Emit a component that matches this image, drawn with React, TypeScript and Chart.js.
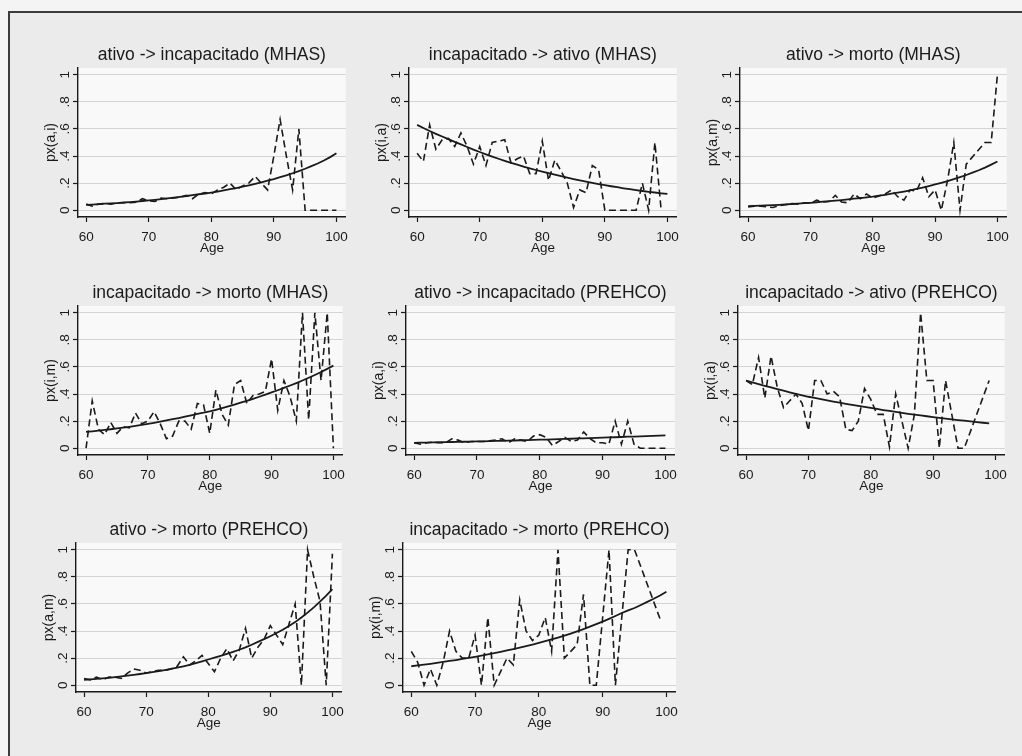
import React, { useEffect, useRef } from 'react';
import { Chart, registerables } from 'chart.js';

Chart.register(...registerables);

// ---------------- data ----------------
const AGES = [
  60, 61, 62, 63, 64, 65, 66, 67, 68, 69,
  70, 71, 72, 73, 74, 75, 76, 77, 78, 79,
  80, 81, 82, 83, 84, 85, 86, 87, 88, 89,
  90, 91, 92, 93, 94, 95, 96, 97, 98, 99, 100,
];

const X_TICKS = [60, 70, 80, 90, 100];
const Y_TICKS = [0, 0.2, 0.4, 0.6, 0.8, 1];
const Y_TICK_LABELS = ['0', '.2', '.4', '.6', '.8', '1'];
const X_TITLE = 'Age';

const TITLES = [
  'ativo -> incapacitado (MHAS)',
  'incapacitado -> ativo (MHAS)',
  'ativo -> morto (MHAS)',
  'incapacitado -> morto (MHAS)',
  'ativo -> incapacitado (PREHCO)',
  'incapacitado -> ativo (PREHCO)',
  'ativo -> morto (PREHCO)',
  'incapacitado -> morto (PREHCO)',
];

const Y_TITLES = ['px(a,i)', 'px(i,a)', 'px(a,m)', 'px(i,m)', 'px(a,i)', 'px(i,a)', 'px(a,m)', 'px(i,m)'];

// observed (dashed) series, ages 60.. ; null = no observation
const OBS_AI_MHAS = [
  0.045, 0.03, 0.045, 0.05, 0.045, 0.055, 0.055, 0.055, 0.06, 0.085,
  0.07, 0.065, 0.09, 0.085, 0.09, 0.095, 0.11, 0.085, 0.12, 0.13,
  0.12, 0.15, 0.17, 0.2, 0.15, 0.18, 0.2, 0.25, 0.2, 0.15,
  0.4, 0.67, 0.4, 0.15, 0.6, 0, 0, 0, 0, 0, 0,
];
const OBS_IA_MHAS = [
  0.42, 0.36, 0.63, 0.45, 0.52, 0.53, 0.47, 0.57, 0.47, 0.34,
  0.47, 0.33, 0.5, 0.51, 0.52, 0.35, 0.38, 0.4, 0.27, 0.27,
  0.51, 0.22, 0.37, 0.29, 0.2, 0.02, 0.15, 0.13, 0.33, 0.3,
  0, 0, 0, 0, 0, 0, 0.2, 0, 0.5, 0,
];
const OBS_AM_MHAS = [
  0.025, 0.03, 0.03, 0.025, 0.02, 0.035, 0.04, 0.05, 0.045, 0.055,
  0.05, 0.075, 0.06, 0.065, 0.11, 0.06, 0.055, 0.12, 0.085, 0.12,
  0.09, 0.105, 0.12, 0.15, 0.1, 0.075, 0.15, 0.14, 0.24, 0.1,
  0.15, 0, 0.22, 0.5, 0, 0.34, null, null, 0.5, 0.5, 1.0,
];
const OBS_IM_MHAS = [
  0, 0.35, 0.14, 0.1, 0.19, 0.11, 0.16, 0.15, 0.26, 0.18,
  0.2, 0.27, 0.18, 0.07, 0.09, 0.2, 0.2, 0.14, 0.33, 0.32,
  0.11, 0.43, 0.25, 0.17, 0.47, 0.5, 0.33, 0.39, 0.4, 0.42,
  0.66, 0.28, 0.5, 0.38, 0.2, 1.0, 0.21, 1.0, 0.5, 1.0, 0,
];
const OBS_AI_PREHCO = [
  0.04, 0.03, 0.04, 0.045, 0.04, 0.04, 0.07, 0.06, 0.04, 0.05,
  0.05, 0.05, 0.055, 0.06, 0.07, 0.04, 0.07, 0.06, 0.05, 0.09,
  0.1, 0.08, 0.02, 0.05, 0.08, 0.05, 0.06, 0.12, 0.07, 0.04,
  0.04, 0.03, 0.2, 0.03, 0.2, 0.03, 0, 0, 0, 0, 0,
];
const OBS_IA_PREHCO = [
  0.5, 0.47, 0.67, 0.37, 0.68, 0.45, 0.3, 0.35, 0.4, 0.33,
  0.13, 0.5, 0.5, 0.4, 0.42, 0.38, 0.14, 0.13, 0.2, 0.44,
  0.36, 0.25, 0.25, 0.01, 0.4, 0.2, 0, 0.25, 1.0, 0.5,
  0.5, 0, 0.5, 0.25, 0, 0, null, null, null, 0.5,
];
const OBS_AM_PREHCO = [
  0.05, 0.04, 0.06, 0.04, 0.06, 0.06, 0.05, 0.09, 0.12, 0.11,
  0.09, 0.1, 0.11, 0.11, 0.12, 0.14, 0.21, 0.15, 0.18, 0.22,
  0.16, 0.1, 0.2, 0.27, 0.18, 0.26, 0.42, 0.2, 0.28, 0.34,
  0.44, 0.37, 0.3, 0.45, 0.6, 0, 1.0, 0.8, 0.62, 0, 0.97,
];
const OBS_IM_PREHCO = [
  0.25, 0.17, 0, 0.12, 0, 0.17, 0.4, 0.25, 0.2, 0.2,
  0.37, 0, 0.5, 0, 0.1, 0.2, 0.15, 0.63, 0.4, 0.33,
  0.37, 0.5, 0.25, 1.0, 0.2, 0.25, 0.3, 0.67, 0, 0,
  0.5, 1.0, 0, 0.5, 1.0, 1.0, null, null, null, 0.49,
];

// fitted (solid) series, ages 60..
const FIT_AI_MHAS = [
  0.04, 0.042, 0.045, 0.048, 0.05, 0.053, 0.057, 0.06, 0.064, 0.068,
  0.072, 0.077, 0.082, 0.087, 0.093, 0.099, 0.105, 0.111, 0.118, 0.123,
  0.13, 0.138, 0.146, 0.155, 0.164, 0.174, 0.184, 0.195, 0.206, 0.218,
  0.23, 0.244, 0.258, 0.273, 0.289, 0.306, 0.325, 0.345, 0.367, 0.392, 0.42,
];
const FIT_IA_MHAS = [
  0.63, 0.607, 0.585, 0.564, 0.544, 0.525, 0.505, 0.486, 0.467, 0.448,
  0.43, 0.413, 0.396, 0.38, 0.365, 0.35, 0.336, 0.322, 0.309, 0.297,
  0.285, 0.274, 0.263, 0.252, 0.241, 0.23, 0.22, 0.211, 0.202, 0.193,
  0.185, 0.177, 0.17, 0.162, 0.155, 0.148, 0.142, 0.136, 0.131, 0.125, 0.12,
];
const FIT_AM_MHAS = [
  0.03, 0.032, 0.034, 0.036, 0.038, 0.04, 0.043, 0.046, 0.049, 0.052,
  0.055, 0.059, 0.063, 0.067, 0.071, 0.075, 0.08, 0.085, 0.09, 0.095,
  0.1, 0.107, 0.114, 0.122, 0.13, 0.138, 0.147, 0.157, 0.167, 0.178,
  0.19, 0.202, 0.215, 0.229, 0.244, 0.26, 0.277, 0.295, 0.315, 0.337, 0.36,
];
const FIT_IM_MHAS = [
  0.12, 0.125, 0.13, 0.135, 0.14, 0.146, 0.152, 0.158, 0.165, 0.172,
  0.18, 0.188, 0.196, 0.205, 0.214, 0.223, 0.233, 0.243, 0.254, 0.262,
  0.272, 0.284, 0.296, 0.309, 0.322, 0.336, 0.35, 0.365, 0.38, 0.396,
  0.412, 0.428, 0.445, 0.463, 0.481, 0.5, 0.52, 0.541, 0.563, 0.586, 0.61,
];
const FIT_AI_PREHCO = [
  0.04, 0.041, 0.042, 0.043, 0.044, 0.045, 0.046, 0.047, 0.048, 0.049,
  0.05, 0.051, 0.052, 0.054, 0.055, 0.056, 0.057, 0.059, 0.06, 0.061,
  0.063, 0.064, 0.066, 0.067, 0.069, 0.07, 0.072, 0.073, 0.075, 0.076,
  0.078, 0.08, 0.081, 0.083, 0.085, 0.086, 0.088, 0.09, 0.091, 0.093, 0.095,
];
const FIT_IA_PREHCO = [
  0.5, 0.487, 0.474, 0.461, 0.449, 0.437, 0.425, 0.413, 0.402, 0.391,
  0.38, 0.371, 0.362, 0.353, 0.344, 0.336, 0.328, 0.32, 0.313, 0.306,
  0.298, 0.29, 0.282, 0.275, 0.268, 0.261, 0.254, 0.248, 0.242, 0.236,
  0.23, 0.224, 0.219, 0.213, 0.208, 0.203, 0.198, 0.193, 0.188, 0.183,
];
const FIT_AM_PREHCO = [
  0.04, 0.043, 0.047, 0.051, 0.055, 0.06, 0.065, 0.071, 0.077, 0.083,
  0.09, 0.097, 0.104, 0.112, 0.121, 0.13, 0.14, 0.151, 0.163, 0.176,
  0.19, 0.203, 0.217, 0.231, 0.246, 0.262, 0.279, 0.299, 0.32, 0.34,
  0.362, 0.385, 0.41, 0.437, 0.466, 0.5, 0.536, 0.575, 0.617, 0.662, 0.71,
];
const FIT_IM_PREHCO = [
  0.14, 0.146, 0.152, 0.158, 0.165, 0.172, 0.179, 0.186, 0.194, 0.202,
  0.21, 0.219, 0.228, 0.237, 0.247, 0.257, 0.267, 0.278, 0.289, 0.3,
  0.312, 0.325, 0.338, 0.352, 0.366, 0.381, 0.397, 0.414, 0.432, 0.451,
  0.47, 0.49, 0.511, 0.533, 0.552, 0.57, 0.592, 0.615, 0.638, 0.663, 0.69,
];

const OBSERVED = [OBS_AI_MHAS, OBS_IA_MHAS, OBS_AM_MHAS, OBS_IM_MHAS, OBS_AI_PREHCO, OBS_IA_PREHCO, OBS_AM_PREHCO, OBS_IM_PREHCO];
const FITTED = [FIT_AI_MHAS, FIT_IA_MHAS, FIT_AM_MHAS, FIT_IM_MHAS, FIT_AI_PREHCO, FIT_IA_PREHCO, FIT_AM_PREHCO, FIT_IM_PREHCO];

// ---------------- layout / style ----------------
// plot region of each panel in page pixels: left, top, width, height
const AREAS = [
  [78, 67.5, 268.5, 149.3],
  [408.5, 67.5, 268.6, 149.3],
  [739.6, 67.5, 268.1, 149.3],
  [77.9, 305.9, 266.4, 148.6],
  [405.8, 305.9, 270.4, 148.6],
  [737.9, 305.9, 268.3, 148.6],
  [75.9, 543.2, 266.8, 149.3],
  [402.7, 543.2, 273.5, 149.3],
];

const X_MIN = 58.7;
const X_MAX = 101.5;
const Y_MIN = -0.05;
const Y_MAX = 1.05;

const PAD_L = 70;
const PAD_T = 40;
const PAD_B = 45;
const PAD_R = 8;

const FONT = '"Liberation Sans", Arial, Helvetica, sans-serif';
const INK = '#1a1a1a';
const OUTER_BG = '#f4f4f4';
const FRAME_BG = '#ebebeb';
const PLOT_BG = '#f9f9f9';
const GRID = '#d4d4d4';

const plotBg = {
  id: 'plotBg',
  beforeDraw(chart: any) {
    const { ctx, chartArea: a } = chart;
    ctx.save();
    ctx.fillStyle = PLOT_BG;
    ctx.fillRect(a.left, a.top, a.right - a.left, a.bottom - a.top);
    ctx.restore();
  },
};

function toPoints(values: (number | null)[]) {
  return values.map((v, i) => ({ x: AGES[i], y: v }));
}

function Panel({ idx }: { idx: number }) {
  const ref = useRef<HTMLCanvasElement>(null);
  const [L, T, W, H] = AREAS[idx];
  const left = Math.round(L);
  const top = Math.round(T);
  const w = Math.round(W);
  const h = Math.round(H);
  const cw = PAD_L + w + PAD_R;
  const ch = PAD_T + h + PAD_B;

  useEffect(() => {
    const chart = new Chart(ref.current as HTMLCanvasElement, {
      type: 'line',
      data: {
        datasets: [
          {
            data: toPoints(OBSERVED[idx]) as any,
            borderColor: INK,
            borderWidth: 1.6,
            borderDash: [7, 4],
            pointRadius: 0,
            spanGaps: true,
            tension: 0,
            fill: false,
          },
          {
            data: toPoints(FITTED[idx]) as any,
            borderColor: INK,
            borderWidth: 1.8,
            pointRadius: 0,
            tension: 0,
            fill: false,
          },
        ],
      },
      options: {
        responsive: false,
        animation: false,
        devicePixelRatio: 1,
        events: [],
        layout: { padding: { left: 0, right: PAD_R, top: 0, bottom: 0 }, autoPadding: false },
        plugins: {
          legend: { display: false },
          tooltip: { enabled: false },
          title: {
            display: true,
            text: TITLES[idx],
            fullSize: false,
            color: INK,
            font: { family: FONT, size: 17.5, weight: 'normal' },
            padding: { top: 17, bottom: 2 },
          },
        },
        scales: {
          x: {
            type: 'linear',
            min: X_MIN,
            max: X_MAX,
            afterBuildTicks: (s: any) => {
              s.ticks = X_TICKS.map((v) => ({ value: v }));
            },
            afterFit: (s: any) => {
              s.height = PAD_B;
            },
            grid: { drawOnChartArea: false, drawTicks: true, tickLength: 5, tickColor: INK, tickWidth: 1.2 },
            border: { display: true, color: INK, width: 1.4 },
            ticks: {
              autoSkip: false,
              maxRotation: 0,
              minRotation: 0,
              padding: 7,
              color: INK,
              font: { family: FONT, size: 13.5 },
            },
            title: {
              display: true,
              text: X_TITLE,
              color: INK,
              font: { family: FONT, size: 13.5 },
              padding: { top: 0, bottom: 6 },
            },
          },
          y: {
            type: 'linear',
            min: Y_MIN,
            max: Y_MAX,
            afterBuildTicks: (s: any) => {
              s.ticks = Y_TICKS.map((v) => ({ value: v }));
            },
            afterFit: (s: any) => {
              s.width = PAD_L;
            },
            grid: { color: GRID, lineWidth: 1, drawTicks: true, tickLength: 5, tickColor: INK, tickWidth: 1.2 },
            border: { display: true, color: INK, width: 1.4 },
            ticks: {
              autoSkip: false,
              minRotation: 90,
              maxRotation: 90,
              crossAlign: 'center',
              padding: 2,
              color: INK,
              font: { family: FONT, size: 13.5 },
              callback: (_v: any, i: number) => Y_TICK_LABELS[i],
            },
            title: {
              display: true,
              text: Y_TITLES[idx],
              color: INK,
              font: { family: FONT, size: 14 },
              padding: { top: 35, bottom: 0 },
            },
          },
        },
      } as any,
      plugins: [plotBg],
    });
    return () => chart.destroy();
  }, [idx]);

  return (
    <canvas
      ref={ref}
      width={cw}
      height={ch}
      style={{ position: 'absolute', left: left - PAD_L, top: top - PAD_T, width: cw, height: ch }}
    />
  );
}

export default function App() {
  return (
    <div
      style={{
        position: 'absolute',
        left: 0,
        top: 0,
        width: 1022,
        height: 756,
        overflow: 'hidden',
        background: OUTER_BG,
      }}
    >
      <div
        style={{
          position: 'absolute',
          left: 8,
          top: 11,
          width: 1030,
          height: 760,
          borderLeft: '2px solid #3c3c3c',
          borderTop: '2px solid #3c3c3c',
          background: FRAME_BG,
        }}
      />
      {TITLES.map((_, i) => (
        <Panel key={i} idx={i} />
      ))}
    </div>
  );
}
